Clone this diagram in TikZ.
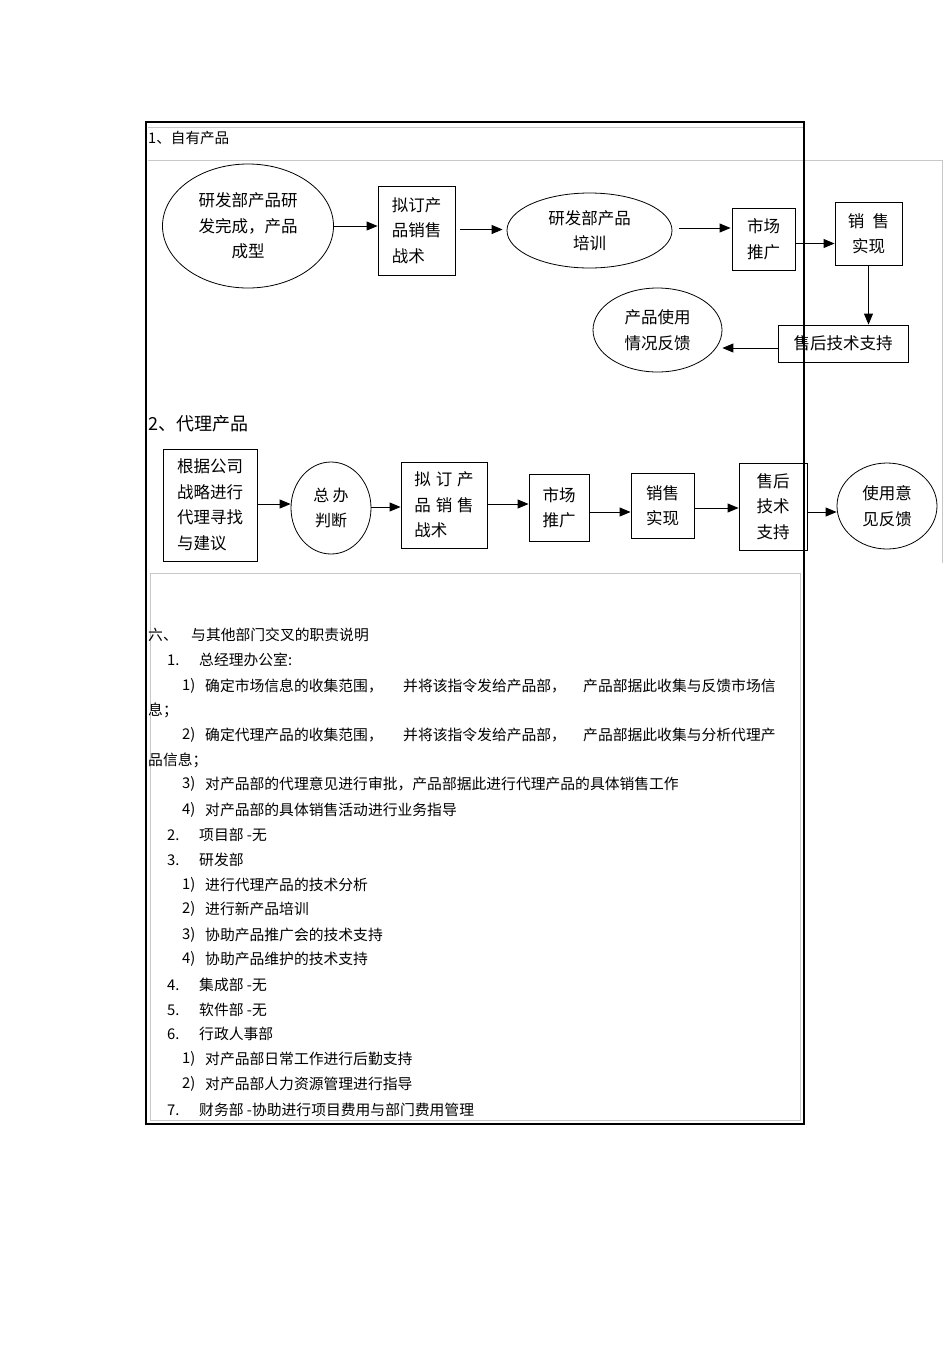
\documentclass[tikz,border=0pt]{standalone}
\usepackage{fontspec}
\setmainfont{Noto Sans CJK SC}
\usetikzlibrary{arrows.meta,shapes.geometric}
\newcommand\fs[1]{\fontsize{#1}{25.5}\selectfont}
\tikzset{
  box/.style={draw, line width=0.9pt, inner sep=0pt, align=left, font={\fs{16.5}}},
  cbox/.style={box, align=center},
  oval/.style={ellipse, draw, line width=0.8pt, inner sep=0pt, align=center, font={\fs{16.5}}},
  arr/.style={-{Triangle[length=11pt,width=9pt]}, line width=0.9pt},
  txt/.style={anchor=west, inner sep=0pt, font={\fs{14.8}}},
  frameline/.style={line width=1.6pt, black},
  grayline/.style={line width=0.7pt, black!22},
}
\begin{document}
\begin{tikzpicture}[x=1pt,y=-1pt]
\useasboundingbox[fill=white] (0,0) rectangle (950,1345);
% frames
\draw[grayline] (148,127) -- (804,127);
\draw[grayline] (148,160) -- (942,160) -- (942,563);
\draw[grayline] (150,573) rectangle (800,1120);
\draw[frameline] (146,122) rectangle (804,1124);

% section 1
\node[txt, font={\fs{14.6}}] (title1) at (148,138) {1、自有产品};
\node[oval, minimum width=171pt, minimum height=124pt] (e1) at (248,226) {研发部产品研\\发完成，产品\\成型};
\node[box, minimum width=77pt, minimum height=89pt] (b2) at (416.5,230.5) {拟订产\\品销售\\战术};
\node[oval, minimum width=165pt, minimum height=75pt] (e3) at (589.5,230.5) {研发部产品\\培训};
\node[box, minimum width=63pt, minimum height=62pt] (b4) at (763.5,239) {市场\\推广};
\node[cbox, minimum width=67pt, minimum height=63pt] (b5) at (868.5,233.5) {销\hspace{0.5em}售\\实现};
\node[cbox, minimum width=130pt, minimum height=37pt] (b6) at (843,343.5) {售后技术支持};
\node[oval, minimum width=129pt, minimum height=84pt] (e7) at (657.5,330) {产品使用\\情况反馈};

\draw[arr] (e1.east) -- (e1.east -| b2.west);
\draw[arr, shorten <=5pt, shorten >=4pt] ([yshift=1pt]b2.east) -- ([yshift=1pt]b2.east -| e3.west);
\draw[arr, shorten <=7pt, shorten >=1pt] ([yshift=2.5pt]e3.east) -- ([yshift=2.5pt]e3.east -| b4.west);
\draw[arr] ([yshift=-4.5pt]b4.east) -- ([yshift=-4.5pt]b4.east -| b5.west);
\draw[arr] (b5.south) -- (b5.south |- b6.north);
\draw[arr] ([yshift=-4.5pt]b6.west) -- ([yshift=-4.5pt]b6.west -| e7.east);

% section 2
\node[txt, font={\fs{18}}] (title2) at (148,424) {2、代理产品};
\node[box, minimum width=94pt, minimum height=112pt] (bA) at (210,505) {根据公司\\战略进行\\代理寻找\\与建议};
\node[oval, font={\fs{16}}, minimum width=80pt, minimum height=92pt] (cB) at (331,508) {总\hspace{0.2em}办\\判断};
\node[box, minimum width=86pt, minimum height=86pt] (bC) at (444,505) {拟\hspace{0.3em}订\hspace{0.3em}产\\品\hspace{0.3em}销\hspace{0.3em}售\\战术};
\node[box, minimum width=60pt, minimum height=67pt] (bD) at (559,507.5) {市场\\推广};
\node[cbox, minimum width=63pt, minimum height=65pt] (bE) at (662.5,505.5) {销售\\实现};
\node[cbox, minimum width=68pt, minimum height=87pt] (bF) at (773,506.5) {售后\\技术\\支持};
\node[oval, minimum width=100pt, minimum height=86pt] (eG) at (887,506) {使用意\\见反馈};

\draw[arr] ([yshift=1pt]bA.east) -- ([yshift=1pt]bA.east -| cB.west);
\draw[arr] ([yshift=1pt]cB.east) -- ([yshift=1pt]cB.east -| bC.west);
\draw[arr] ([yshift=1pt]bC.east) -- ([yshift=1pt]bC.east -| bD.west);
\draw[arr] ([yshift=-4.5pt]bD.east) -- ([yshift=-4.5pt]bD.east -| bE.west);
\draw[arr] ([yshift=-2.5pt]bE.east) -- ([yshift=-2.5pt]bE.east -| bF.west);
\draw[arr] ([yshift=-5.5pt]bF.east) -- ([yshift=-5.5pt]bF.east -| eG.west);

% text section
\node[txt] (s0) at (148,635) {六、};
\node[txt] (s0t) at (191,635) {与其他部门交叉的职责说明};
\node[txt] (n1) at (167,660) {1.};
\node[txt] (n1t) at (199,660) {总经理办公室:};
\node[txt] (a1) at (182,686) {1)};
\node[txt] (a1t) at (205,686) {确定市场信息的收集范围，};
\node[txt] (a1u) at (403,686) {并将该指令发给产品部，};
\node[txt] (a1v) at (583,686) {产品部据此收集与反馈市场信};
\node[txt] (a1w) at (148,710) {息；};
\node[txt] (a2) at (182,735) {2)};
\node[txt] (a2t) at (205,735) {确定代理产品的收集范围，};
\node[txt] (a2u) at (403,735) {并将该指令发给产品部，};
\node[txt] (a2v) at (583,735) {产品部据此收集与分析代理产};
\node[txt] (a2w) at (148,760) {品信息；};
\node[txt] (a3) at (182,784) {3)};
\node[txt] (a3t) at (205,784) {对产品部的代理意见进行审批，产品部据此进行代理产品的具体销售工作};
\node[txt] (a4) at (182,810) {4)};
\node[txt] (a4t) at (205,810) {对产品部的具体销售活动进行业务指导};
\node[txt] (n2) at (167,835) {2.};
\node[txt] (n2t) at (199,835) {项目部 -无};
\node[txt] (n3) at (167,860) {3.};
\node[txt] (n3t) at (199,860) {研发部};
\node[txt] (c1) at (182,885) {1)};
\node[txt] (c1t) at (205,885) {进行代理产品的技术分析};
\node[txt] (c2) at (182,909) {2)};
\node[txt] (c2t) at (205,909) {进行新产品培训};
\node[txt] (c3) at (182,935) {3)};
\node[txt] (c3t) at (205,935) {协助产品推广会的技术支持};
\node[txt] (c4) at (182,959) {4)};
\node[txt] (c4t) at (205,959) {协助产品维护的技术支持};
\node[txt] (n4) at (167,985) {4.};
\node[txt] (n4t) at (199,985) {集成部 -无};
\node[txt] (n5) at (167,1010) {5.};
\node[txt] (n5t) at (199,1010) {软件部 -无};
\node[txt] (n6) at (167,1034) {6.};
\node[txt] (n6t) at (199,1034) {行政人事部};
\node[txt] (d1) at (182,1059) {1)};
\node[txt] (d1t) at (205,1059) {对产品部日常工作进行后勤支持};
\node[txt] (d2) at (182,1084) {2)};
\node[txt] (d2t) at (205,1084) {对产品部人力资源管理进行指导};
\node[txt] (n7) at (167,1110) {7.};
\node[txt] (n7t) at (199,1110) {财务部 -协助进行项目费用与部门费用管理};
\end{tikzpicture}
\end{document}
